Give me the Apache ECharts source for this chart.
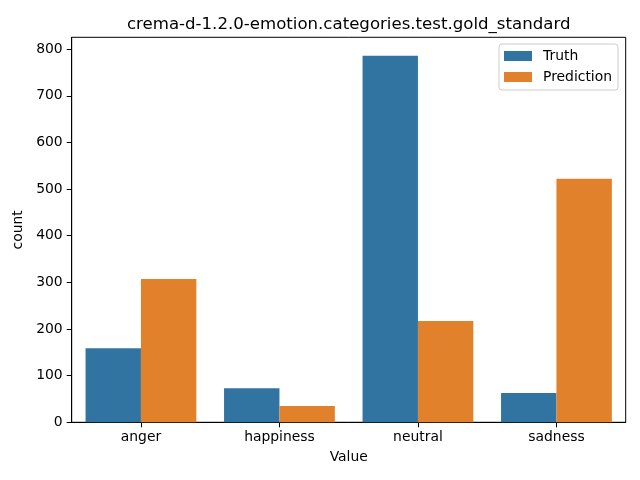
<!DOCTYPE html>
<html><head><meta charset="utf-8">
<script src="https://cdn.jsdelivr.net/npm/echarts@6/dist/echarts.min.js"></script>
<style>html,body{margin:0;padding:0;background:#fff}#c{width:640px;height:480px}</style>
</head><body><div id="c"></div>
<script>
const categories = ['anger', 'happiness', 'neutral', 'sadness'];
const truth = [159, 73, 786, 63];
const prediction = [307, 35, 217, 522];
const yTicks = [0, 100, 200, 300, 400, 500, 600, 700, 800];
const yMax = 825.3;

const chart = echarts.init(document.getElementById('c'), null, {renderer: 'canvas'});
const font = 'DejaVu Sans';
chart.setOption({
  animation: false,
  backgroundColor: '#fff',
  title: {
    text: 'crema-d-1.2.0-emotion.categories.test.gold_standard',
    left: 343.7, top: 11, textAlign: 'center',
    textStyle: {fontFamily: font, fontSize: 16.6, fontWeight: 'normal', color: '#000'}
  },
  legend: {
    orient: 'vertical', right: 22, top: 44,
    itemWidth: 28, itemHeight: 10, itemGap: 7,
    padding: [5, 6, 6, 5],
    borderColor: '#cccccc', borderWidth: 1, borderRadius: 3,
    icon: 'rect',
    textStyle: {fontFamily: font, fontSize: 13.9, lineHeight: 14, color: '#000', padding: [0, 0, 0, 6]},
    data: ['Truth', 'Prediction']
  },
  grid: {left: 71.7, right: 14.3, top: 37.3, bottom: 57.7, containLabel: false,
    show: true, borderColor: '#000', borderWidth: 1},
  xAxis: {
    type: 'category', data: categories,
    name: 'Value', nameLocation: 'middle', nameGap: 28,
    nameTextStyle: {fontFamily: font, fontSize: 13.9, color: '#000'},
    axisLine: {show: true, lineStyle: {color: '#000', width: 1}},
    axisTick: {show: true, alignWithLabel: true, length: 5, lineStyle: {color: '#000'}},
    axisLabel: {fontFamily: font, fontSize: 13.9, color: '#000', margin: 8},
    splitLine: {show: false}
  },
  yAxis: {
    type: 'value', min: 0, max: yMax, interval: 100,
    name: 'count', nameLocation: 'middle', nameGap: 41,
    nameTextStyle: {fontFamily: font, fontSize: 13.9, color: '#000'},
    axisLine: {show: true, lineStyle: {color: '#000', width: 1}},
    axisTick: {show: true, length: 5, lineStyle: {color: '#000'}},
    axisLabel: {fontFamily: font, fontSize: 13.9, color: '#000', margin: 9,
      formatter: v => yTicks.includes(v) ? String(v) : '', showMaxLabel: false},
    splitLine: {show: false}
  },
  series: [
    {name: 'Truth', type: 'bar', data: truth, barGap: '0%', barCategoryGap: '20%',
      itemStyle: {color: '#3274a1'}},
    {name: 'Prediction', type: 'bar', data: prediction, barGap: '0%', barCategoryGap: '20%',
      itemStyle: {color: '#e1812c'}}
  ]
});
</script></body></html>
